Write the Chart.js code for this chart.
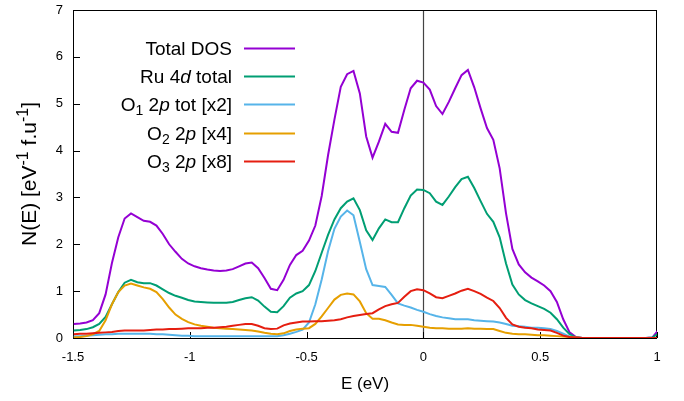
<!DOCTYPE html>
<html>
<head>
<meta charset="utf-8">
<script src="https://cdn.jsdelivr.net/npm/chart.js@4.4.1/dist/chart.umd.min.js"></script>
<style>
body { margin: 0; background: #fff; }
</style>
</head>
<body>
<canvas id="dosChart" width="684" height="401"></canvas>
<script>
// energy grid (eV), step 0.002 Ry
var energy = [-1.4966,-1.4693,-1.4421,-1.4149,-1.3877,-1.3605,-1.3333,-1.3061,-1.2789,-1.2517,
    -1.2245,-1.1972,-1.1700,-1.1428,-1.1156,-1.0884,-1.0612,-1.0340,-1.0068,-0.9796,
    -0.9524,-0.9251,-0.8979,-0.8707,-0.8435,-0.8163,-0.7891,-0.7619,-0.7347,-0.7075,
    -0.6803,-0.6530,-0.6258,-0.5986,-0.5714,-0.5442,-0.5170,-0.4898,-0.4626,-0.4354,
    -0.4082,-0.3809,-0.3537,-0.3265,-0.2993,-0.2721,-0.2449,-0.2177,-0.1905,-0.1633,
    -0.1361,-0.1088,-0.0816,-0.0544,-0.0272,0,0.0272,0.0544,0.0816,0.1088,
    0.1361,0.1633,0.1905,0.2177,0.2449,0.2721,0.2993,0.3265,0.3537,0.3809,
    0.4082,0.4354,0.4626,0.4898,0.5170,0.5442,0.5714,0.5986,0.6258,0.6530,
    0.6803,0.7075,0.7347,0.7619,0.7891,0.8163,0.8435,0.8707,0.8979,0.9251,
    0.9524,0.9796,1.0068];

var totalDos = [0.30,0.31,0.33,0.38,0.53,0.93,1.60,2.15,2.55,2.66,
    2.58,2.50,2.48,2.40,2.22,2.00,1.84,1.69,1.59,1.53,
    1.49,1.46,1.44,1.43,1.44,1.47,1.53,1.59,1.61,1.49,
    1.28,1.05,1.02,1.24,1.56,1.77,1.86,2.08,2.40,3.03,
    3.90,4.66,5.36,5.63,5.70,5.22,4.30,3.85,4.19,4.57,
    4.40,4.38,4.87,5.33,5.49,5.45,5.30,4.95,4.78,5.04,
    5.33,5.61,5.72,5.35,4.90,4.48,4.23,3.62,2.66,1.90,
    1.57,1.40,1.29,1.21,1.12,1.00,0.77,0.40,0.12,0.02,
    0,0,0,0,0,0,0,0,0,0,
    0,0.01,0.17];

var ru4d = [0.16,0.17,0.19,0.23,0.30,0.45,0.72,0.98,1.18,1.24,
    1.19,1.17,1.17,1.12,1.04,0.96,0.90,0.86,0.81,0.78,
    0.77,0.76,0.75,0.75,0.75,0.77,0.81,0.85,0.87,0.80,
    0.67,0.56,0.55,0.68,0.86,0.95,1.00,1.13,1.43,1.82,
    2.20,2.53,2.77,2.91,2.98,2.73,2.30,2.09,2.34,2.53,
    2.47,2.47,2.77,3.04,3.17,3.16,3.09,2.91,2.84,3.02,
    3.22,3.39,3.44,3.20,2.92,2.65,2.48,2.15,1.59,1.14,
    0.93,0.81,0.74,0.68,0.62,0.54,0.40,0.22,0.08,0.01,
    0,0,0,0,0,0,0,0,0,0,
    0,0.01,0.10];

var o1 = [0.03,0.04,0.05,0.06,0.07,0.08,0.08,0.09,0.09,0.09,
    0.09,0.09,0.09,0.08,0.08,0.07,0.06,0.05,0.05,0.04,
    0.04,0.04,0.04,0.04,0.04,0.04,0.04,0.04,0.04,0.04,
    0.04,0.04,0.04,0.06,0.09,0.13,0.18,0.33,0.72,1.25,
    1.85,2.33,2.59,2.72,2.62,2.05,1.47,1.13,1.11,1.09,
    0.92,0.74,0.69,0.65,0.60,0.56,0.51,0.47,0.44,0.42,
    0.40,0.40,0.40,0.38,0.37,0.36,0.35,0.33,0.30,0.26,
    0.25,0.24,0.22,0.22,0.21,0.19,0.15,0.09,0.03,0.01,
    0,0,0,0,0,0,0,0,0,0,
    0,0,0];

var o2 = [0.01,0.02,0.04,0.08,0.15,0.38,0.72,0.98,1.12,1.16,
    1.12,1.08,1.05,0.98,0.83,0.65,0.50,0.41,0.34,0.29,
    0.26,0.24,0.22,0.21,0.20,0.19,0.18,0.17,0.16,0.14,
    0.11,0.09,0.08,0.10,0.15,0.18,0.20,0.21,0.30,0.46,
    0.64,0.82,0.92,0.95,0.93,0.78,0.53,0.41,0.41,0.38,
    0.33,0.29,0.28,0.28,0.26,0.24,0.22,0.21,0.21,0.20,
    0.20,0.20,0.21,0.20,0.20,0.19,0.19,0.15,0.11,0.09,
    0.08,0.08,0.07,0.06,0.06,0.05,0.04,0.03,0.02,0.01,
    0,0,0,0,0,0,0,0,0,0,
    0,0,0];

var o3 = [0.08,0.09,0.09,0.10,0.11,0.12,0.13,0.15,0.16,0.16,
    0.16,0.16,0.17,0.18,0.18,0.19,0.19,0.20,0.21,0.21,
    0.21,0.22,0.22,0.23,0.24,0.26,0.28,0.30,0.30,0.26,
    0.21,0.19,0.20,0.27,0.31,0.33,0.35,0.35,0.36,0.36,
    0.37,0.38,0.40,0.44,0.47,0.49,0.51,0.53,0.61,0.68,
    0.72,0.75,0.88,1.00,1.04,1.02,0.95,0.87,0.85,0.90,
    0.95,1.01,1.05,1.00,0.94,0.86,0.79,0.64,0.43,0.29,
    0.24,0.22,0.21,0.18,0.17,0.16,0.11,0.05,0.02,0.01,
    0,0,0,0,0,0,0,0,0,0,
    0,0,0];

var xTicks = [-1.5, -1, -0.5, 0, 0.5, 1];
var yTicks = [0, 1, 2, 3, 4, 5, 6, 7];

var colors = ['#9400d3', '#009e73', '#56b4e9', '#e69f00', '#e51e10'];

// legend text pieces: sub = subscript, it = italic
var legendParts = [
    [{t: 'Total DOS'}],
    [{t: 'Ru 4'}, {t: 'd', it: true}, {t: ' total'}],
    [{t: 'O'}, {t: '1', sub: true}, {t: ' 2'}, {t: 'p', it: true}, {t: ' tot [x2]'}],
    [{t: 'O'}, {t: '2', sub: true}, {t: ' 2'}, {t: 'p', it: true}, {t: ' [x4]'}],
    [{t: 'O'}, {t: '3', sub: true}, {t: ' 2'}, {t: 'p', it: true}, {t: ' [x8]'}]
];

var FONT = '"Liberation Sans", Arial, sans-serif';

function pts(vals) {
    return energy.map(function (e, i) { return {x: e, y: vals[i]}; });
}

function partFont(p, size) {
    var s = p.sub || p.sup ? Math.round(size * 0.75) : size;
    return (p.it ? 'italic ' : '') + s + 'px ' + FONT;
}

function partsWidth(ctx, parts, size) {
    var w = 0;
    parts.forEach(function (p) {
        ctx.font = partFont(p, size);
        w += ctx.measureText(p.t).width;
    });
    return w;
}

function drawParts(ctx, parts, x, y, size) {
    parts.forEach(function (p) {
        ctx.font = partFont(p, size);
        var dy = p.sub ? size * 0.22 : (p.sup ? -size * 0.38 : 0);
        ctx.fillText(p.t, x, y + dy);
        x += ctx.measureText(p.t).width;
    });
}

var decor = {
    id: 'decor',
    beforeDatasetsDraw: function (chart) {
        var c = chart.ctx, a = chart.chartArea;
        var xs = chart.scales.x, ys = chart.scales.y;
        c.save();
        // zero line
        var x0 = Math.round(xs.getPixelForValue(0)) + 0.5;
        c.strokeStyle = '#444';
        c.lineWidth = 1.2;
        c.beginPath();
        c.moveTo(x0, a.top);
        c.lineTo(x0, a.bottom);
        c.stroke();
        // frame
        c.strokeStyle = '#000';
        c.lineWidth = 1;
        c.strokeRect(a.left + 0.5, a.top + 0.5, a.right - a.left - 1, a.bottom - a.top);
        // inward ticks
        c.beginPath();
        yTicks.forEach(function (v) {
            var y = Math.round(ys.getPixelForValue(v)) + 0.5;
            c.moveTo(a.left, y);
            c.lineTo(a.left + 7, y);
        });
        xTicks.forEach(function (v) {
            var x = Math.round(xs.getPixelForValue(v)) + 0.5;
            c.moveTo(x, a.bottom);
            c.lineTo(x, a.bottom - 6);
        });
        c.stroke();
        c.restore();
    },
    afterDraw: function (chart) {
        var c = chart.ctx, a = chart.chartArea;
        c.save();
        c.fillStyle = '#000';
        c.textBaseline = 'alphabetic';

        // x title
        c.font = '17px ' + FONT;
        c.textAlign = 'center';
        c.fillText('E (eV)', (a.left + a.right) / 2, 389);

        // y title, rotated
        var yParts = [{t: 'N(E) [eV'}, {t: '-1', sup: true}, {t: ' f.u'}, {t: '-1', sup: true}, {t: ']'}];
        c.textAlign = 'left';
        c.translate(36, (a.top + a.bottom) / 2);
        c.rotate(-Math.PI / 2);
        var w = partsWidth(c, yParts, 21);
        drawParts(c, yParts, -w / 2, 0, 21);
        c.setTransform(1, 0, 0, 1, 0, 0);

        // legend
        var rowY = 47.7, step = 28.35, size = 19;
        legendParts.forEach(function (parts, i) {
            var y = rowY + i * step;
            var lw = partsWidth(c, parts, size);
            c.fillStyle = '#000';
            drawParts(c, parts, 232 - lw, y + size * 0.36, size);
            c.strokeStyle = colors[i];
            c.lineWidth = 2;
            c.beginPath();
            c.moveTo(244, Math.round(y) + 0.5);
            c.lineTo(295, Math.round(y) + 0.5);
            c.stroke();
        });
        c.restore();
    }
};

var seriesData = [totalDos, ru4d, o1, o2, o3];

var ctx = document.getElementById('dosChart').getContext('2d');
var dosChart = new Chart(ctx, {
    type: 'line',
    data: {
        datasets: seriesData.map(function (vals, i) {
            return {
                data: pts(vals),
                borderColor: colors[i],
                borderWidth: 2,
                pointRadius: 0,
                tension: 0,
                fill: false,
                order: 4 - i
            };
        })
    },
    options: {
        responsive: false,
        animation: false,
        devicePixelRatio: 1,
        layout: {padding: {top: 10, right: 27, left: 0, bottom: 0}},
        plugins: {legend: {display: false}, tooltip: {enabled: false}},
        scales: {
            x: {
                type: 'linear',
                min: -1.5,
                max: 1,
                afterBuildTicks: function (s) { s.ticks = xTicks.map(function (v) { return {value: v}; }); },
                afterFit: function (s) { s.height = 63; s.paddingLeft = 0; s.paddingRight = 0; },
                grid: {display: false, drawTicks: false},
                border: {display: false},
                ticks: {
                    color: '#000', padding: 12, maxRotation: 0, font: {family: FONT, size: 13},
                    callback: function (v) { return String(v); }
                }
            },
            y: {
                min: 0,
                max: 7,
                afterBuildTicks: function (s) { s.ticks = yTicks.map(function (v) { return {value: v}; }); },
                afterFit: function (s) { s.width = 73; s.paddingTop = 0; s.paddingBottom = 0; },
                grid: {display: false, drawTicks: false},
                border: {display: false},
                ticks: {color: '#000', padding: 10, font: {family: FONT, size: 13}}
            }
        }
    },
    plugins: [decor]
});
</script>
</body>
</html>
